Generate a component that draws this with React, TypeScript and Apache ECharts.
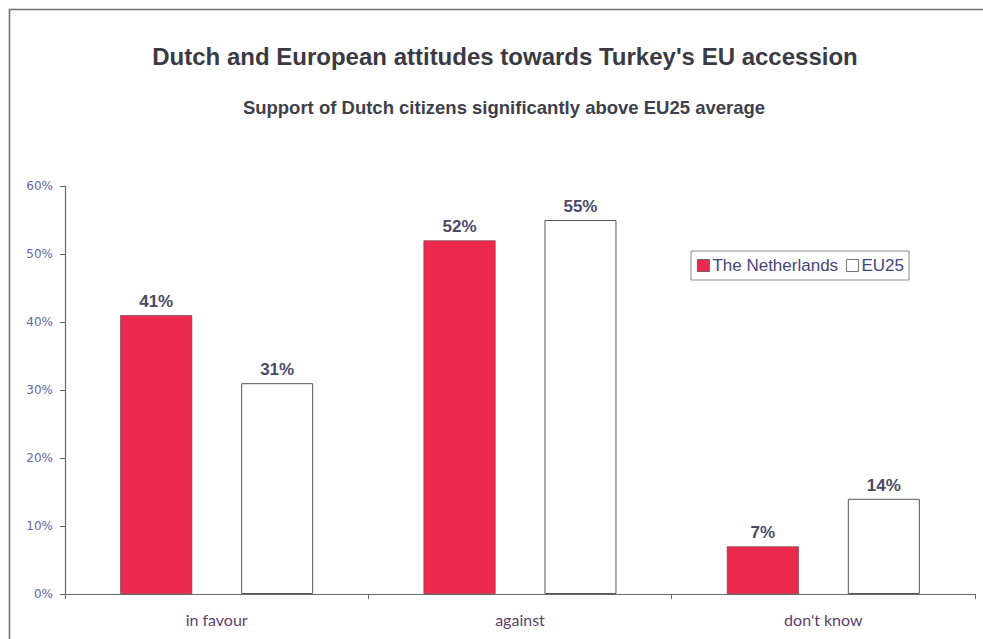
import React, { useEffect, useRef } from "react";
import * as echarts from "echarts";

const categories = ["in favour", "against", "don't know"];
const netherlands = [41, 52, 7];
const eu25 = [31, 55, 14];
const yTicks = [0, 10, 20, 30, 40, 50, 60];

export default function App() {
  const ref = useRef<HTMLDivElement>(null);
  useEffect(() => {
    const chart = echarts.init(ref.current!, null, { renderer: "svg" });
    const labelStyle = {
      show: true,
      position: "top",
      distance: 5,
      formatter: "{c}%",
      fontFamily: "Liberation Sans",
      fontWeight: "bold",
      fontSize: 17,
      color: "#4a4a68",
    };
    chart.setOption({
      animation: false,
      backgroundColor: "#ffffff",
      graphic: [
        {
          type: "rect",
          shape: { x: 9.5, y: 9.5, width: 1000, height: 700 },
          style: { fill: "none", stroke: "#707078", lineWidth: 1.6 },
          silent: true,
        },
      ],
      title: [
        {
          text: "Dutch and European attitudes towards Turkey's EU accession",
          left: 500,
          textAlign: "center",
          top: 39,
          textStyle: {
            fontFamily: "Liberation Sans",
            fontWeight: "bold",
            fontSize: 24,
            color: "#3a3a44",
          },
        },
        {
          text: "Support of Dutch citizens significantly above EU25 average",
          left: 499,
          textAlign: "center",
          top: 93,
          textStyle: {
            fontFamily: "Liberation Sans",
            fontWeight: "bold",
            fontSize: 18.5,
            color: "#3f3f4c",
          },
        },
      ],
      legend: {
        left: 691,
        top: 251,
        orient: "horizontal",
        padding: [6, 5, 6, 6],
        itemGap: 8,
        itemWidth: 12,
        itemHeight: 12,
        borderColor: "#8a8a8a",
        borderWidth: 1,
        textStyle: {
          fontFamily: "Liberation Sans",
          fontSize: 17,
          color: "#46467a",
          padding: [0, 0, 0, -2],
        },
        data: [
          { name: "The Netherlands", icon: "rect", itemStyle: { color: "#ec2a4e", borderColor: "#555", borderWidth: 0.8 } },
          { name: "EU25", icon: "rect", itemStyle: { color: "#ffffff", borderColor: "#555", borderWidth: 0.8 } },
        ],
      },
      grid: { left: 65, right: 8, top: 186, bottom: 45, containLabel: false },
      xAxis: {
        type: "category",
        data: categories,
        axisLine: { lineStyle: { color: "#6a6a6a", width: 1.2 } },
        axisTick: { show: true, length: 5, lineStyle: { color: "#6a6a6a" } },
        axisLabel: {
          margin: 17,
          fontFamily: "Lato, Open Sans",
          fontSize: 16,
          color: "#5a3f6e",
        },
        splitLine: { show: false },
      },
      yAxis: {
        type: "value",
        min: yTicks[0],
        max: yTicks[yTicks.length - 1],
        interval: 10,
        axisLine: { show: true, lineStyle: { color: "#6a6a6a", width: 1.2 } },
        axisTick: { show: true, length: 5, lineStyle: { color: "#6a6a6a" } },
        axisLabel: {
          formatter: "{value}%",
          margin: 12,
          fontFamily: "DejaVu Sans",
          fontSize: 12,
          color: "#6464aa",
        },
        splitLine: { show: false },
      },
      series: [
        {
          name: "The Netherlands",
          type: "bar",
          data: netherlands,
          barWidth: 72,
          barGap: "68%",
          itemStyle: { color: "#ec2a4e", borderColor: "#6a3a44", borderWidth: 0.6 },
          label: labelStyle,
        },
        {
          name: "EU25",
          type: "bar",
          data: eu25,
          barWidth: 72,
          barGap: "68%",
          itemStyle: { color: "#ffffff", borderColor: "#555555", borderWidth: 1 },
          label: labelStyle,
        },
      ],
    });
    return () => chart.dispose();
  }, []);
  return <div ref={ref} style={{ width: 983, height: 639, position: "absolute", left: 0, top: 0 }} />;
}
